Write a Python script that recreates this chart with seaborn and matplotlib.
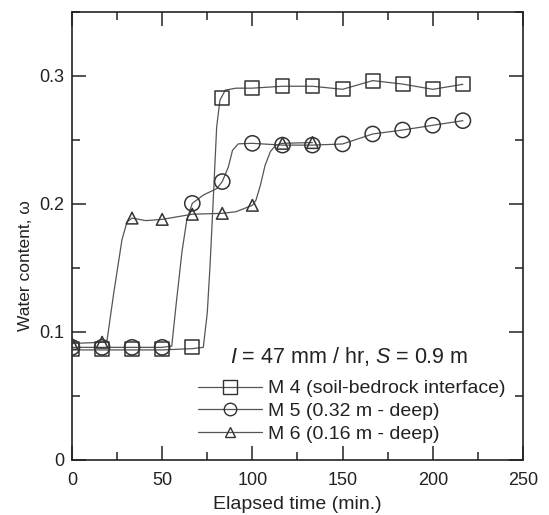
import matplotlib
matplotlib.use("Agg")
import matplotlib.pyplot as plt
from matplotlib.lines import Line2D
from matplotlib.ticker import MultipleLocator
import seaborn as sns
import pandas as pd

# ---- data ----
m4_t = [0, 16.7, 33.3, 50, 66.7, 83.3, 100, 116.7, 133.3, 150, 166.7, 183.3, 200, 216.7]
m4_v = [0.087, 0.087, 0.087, 0.087, 0.0885, 0.2826, 0.2904, 0.292, 0.292, 0.2896, 0.2964, 0.2937, 0.2896, 0.2935]
m5_t = [0, 16.7, 33.3, 50, 66.7, 83.3, 100, 116.7, 133.3, 150, 166.7, 183.3, 200, 216.7]
m5_v = [0.088, 0.088, 0.088, 0.088, 0.2005, 0.2175, 0.2474, 0.246, 0.246, 0.2469, 0.2547, 0.2578, 0.2615, 0.2651]
m6_t = [0, 16.7, 33.3, 50, 66.7, 83.3, 100, 116.7, 133.3]
m6_v = [0.091, 0.092, 0.189, 0.188, 0.192, 0.1927, 0.199, 0.2474, 0.248]

# traced connecting curves
m4_line_t = [0, 16.7, 33.3, 50, 66.7, 72.8, 75, 76.5, 78.3, 80.2, 82, 85, 91, 100, 116.7, 133.3, 150, 166.7, 183.3, 200, 216.7]
m4_line_v = [0.086, 0.086, 0.086, 0.086, 0.087, 0.088, 0.115, 0.151, 0.203, 0.260, 0.281, 0.289, 0.2905, 0.2905, 0.292, 0.292, 0.2896, 0.2964, 0.2937, 0.2896, 0.2935]
m5_line_t = [0, 16.7, 33.3, 50, 55.3, 58, 61, 63.7, 66.7, 72.8, 80.2, 83.3, 86.7, 89, 92.2, 100, 116.7, 133.3, 150, 166.7, 183.3, 200, 216.7]
m5_line_v = [0.088, 0.088, 0.088, 0.088, 0.089, 0.125, 0.163, 0.188, 0.2005, 0.207, 0.212, 0.2175, 0.229, 0.242, 0.247, 0.2474, 0.246, 0.246, 0.2469, 0.2547, 0.2578, 0.2615, 0.2651]
m6_line_t = [0, 16.7, 19.4, 23.1, 27.7, 30.5, 33.3, 41, 50, 66.7, 83.3, 91, 100, 102, 104.5, 107, 110, 113, 116.7, 133.3]
m6_line_v = [0.091, 0.092, 0.093, 0.130, 0.172, 0.186, 0.189, 0.187, 0.188, 0.192, 0.1927, 0.194, 0.199, 0.203, 0.215, 0.230, 0.241, 0.246, 0.2474, 0.248]

labels = ["M 4 (soil-bedrock interface)", "M 5 (0.32 m - deep)", "M 6 (0.16 m - deep)"]
legend_title = r"$\mathit{I}$ = 47 mm / hr, $\mathit{S}$ = 0.9 m"
x_label = "Elapsed time (min.)"
y_label = "Water content, ω"
x_ticks = [0, 50, 100, 150, 200, 250]
y_ticks = [0, 0.1, 0.2, 0.3]
y_ticklabels = ["0", "0.1", "0.2", "0.3"]

# ---- style ----
sns.set_theme(style="white")
plt.rcParams["font.family"] = ["Liberation Sans", "DejaVu Sans"]
plt.rcParams["mathtext.fontset"] = "custom"
plt.rcParams["mathtext.rm"] = "Liberation Sans"
plt.rcParams["mathtext.it"] = "Liberation Sans:italic"

LINE_C = "#555555"
MARK_C = "#333333"
TXT_C = "#222222"

fig = plt.figure(figsize=(5.49, 5.15), dpi=100)
ax = fig.add_axes([0.1311, 0.1068, 0.8215, 0.8699])

series = [
    (m4_line_t, m4_line_v, m4_t, m4_v, "s", 100),
    (m5_line_t, m5_line_v, m5_t, m5_v, "o", 120),
    (m6_line_t, m6_line_v, m6_t, m6_v, "^", 70),
]
for lt, lv, mt, mv, mk, sz in series:
    dl = pd.DataFrame({"t": lt, "v": lv})
    sns.lineplot(data=dl, x="t", y="v", ax=ax, color=LINE_C, linewidth=0.9,
                 sort=False, estimator=None)
    dm = pd.DataFrame({"t": mt, "v": mv})
    sns.scatterplot(data=dm, x="t", y="v", ax=ax, marker=mk, s=sz,
                    facecolor="none", edgecolor=MARK_C, linewidth=1.1, zorder=3)

ax.set_xlim(0, 250)
ax.set_ylim(0, 0.35)
ax.xaxis.set_minor_locator(MultipleLocator(25))
ax.yaxis.set_minor_locator(MultipleLocator(0.05))
ax.set_yticks(y_ticks)
ax.set_yticklabels(y_ticklabels)
ax.set_xticks(x_ticks)
ax.set_xticklabels([str(v) for v in x_ticks])
ax.tick_params(which="both", direction="in", top=True, right=True,
               bottom=True, left=True, color=TXT_C, labelsize=13,
               labelcolor=TXT_C)
ax.tick_params(axis="x", which="major", pad=8.5)
ax.tick_params(axis="y", which="major", pad=5.5)
ax.tick_params(which="major", length=10, width=1.1)
ax.tick_params(which="minor", length=5.5, width=1.1)
for sp in ax.spines.values():
    sp.set_color(TXT_C)
    sp.set_linewidth(1.2)

ax.set_xlabel(x_label, fontsize=14, color=TXT_C, labelpad=5)
ax.set_ylabel(y_label, fontsize=12.5, color=TXT_C)
ax.yaxis.set_label_coords(-0.087, 0.433)

# legend title drawn as its own text, legend entries below it
ax.text(0.614, 0.230, legend_title, transform=ax.transAxes, fontsize=15.5,
        color=TXT_C, ha="center", va="center")

markers = ["s", "o", "^"]
msz = [9.5, 9, 6.5]
handles = [Line2D([], [], color=LINE_C, linewidth=0.9, marker=m, markersize=s,
                  markerfacecolor="none", markeredgecolor=MARK_C,
                  markeredgewidth=1.0) for m, s in zip(markers, msz)]
leg = ax.legend(handles, labels, loc="upper left",
                bbox_to_anchor=(0.279, 0.179), frameon=False, fontsize=14,
                handlelength=3.3, handletextpad=0.3,
                labelspacing=0.27, borderpad=0, borderaxespad=0)
for t in leg.get_texts():
    t.set_color(TXT_C)

fig.savefig("out.png", dpi=100)
